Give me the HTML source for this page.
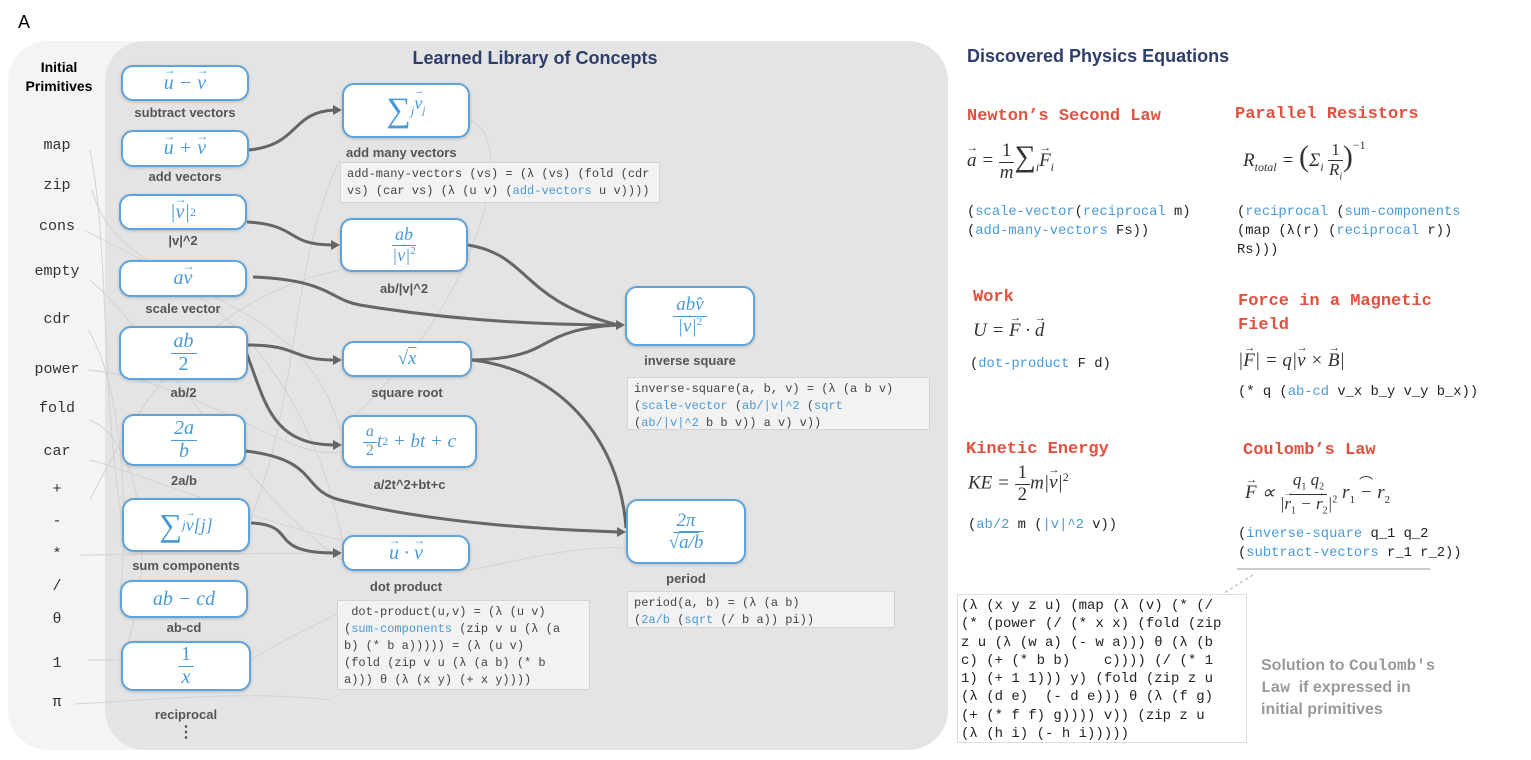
<!DOCTYPE html>
<html><head><meta charset="utf-8">
<style>
body{margin:0;width:1531px;height:760px;background:#fff;position:relative;overflow:hidden;font-family:"Liberation Sans",sans-serif}
.a{position:absolute}
.nd{position:absolute;background:#fff;border:2px solid #5ea3dc;border-radius:12px;box-shadow:0 1px 3px rgba(0,0,0,.18);box-sizing:border-box;display:flex;align-items:center;justify-content:center;color:#4a9ad6;font-family:"Liberation Serif",serif;font-style:italic;font-size:20px;white-space:nowrap}
.lb{position:absolute;font-weight:bold;font-size:13px;color:#555;text-align:center;white-space:nowrap}
.pr{position:absolute;font-family:"Liberation Mono",monospace;font-size:15px;color:#333;width:60px;text-align:center;left:27px}
.cb{position:absolute;background:#f2f2f2;border:1px solid #d4d4d4;font-family:"Liberation Mono",monospace;font-size:12px;line-height:17px;color:#444;padding:3px 6px;box-sizing:border-box;white-space:pre}
.b{color:#4a9ad6}
.fr{display:inline-flex;flex-direction:column;align-items:center;vertical-align:middle;line-height:1.05}
.fr>span:first-child{border-bottom:1.5px solid currentColor;padding:0 3px 1px}
.ti{position:absolute;font-family:"Liberation Mono",monospace;font-weight:bold;font-size:17px;color:#e0513f;white-space:nowrap}
.eq{position:absolute;font-family:"Liberation Serif",serif;font-style:italic;font-size:19px;color:#333;white-space:nowrap}
.co{position:absolute;font-family:"Liberation Mono",monospace;font-size:13.8px;line-height:19px;color:#222;white-space:pre}
.v{position:relative;display:inline-block}
.v::before{content:"→";position:absolute;left:50%;top:-0.62em;transform:translateX(-45%);font-size:0.6em;font-style:normal;line-height:1}
</style></head><body>
<svg class="a" style="left:0;top:0" width="1531" height="760">
<rect x="8" y="41" width="940" height="709" rx="40" fill="#f4f4f4"/>
<rect x="105" y="41" width="843" height="709" rx="40" fill="#e4e4e4"/>
<g fill="none" stroke="#d2d2d2" stroke-width="1">
<path d="M90 150 C110 250,100 400,125 540"/><path d="M92 190 C120 300,300 280,340 430"/>
<path d="M85 230 C130 260,300 300,345 555"/><path d="M90 280 C150 330,250 500,342 560"/>
<path d="M88 330 C120 380,130 500,120 600"/><path d="M88 370 C200 380,300 470,345 450"/>
<path d="M90 420 C140 440,160 560,122 660"/><path d="M90 460 C130 470,250 520,342 540"/>
<path d="M80 555 L340 553"/><path d="M90 500 C140 400,200 300,340 270"/>
<path d="M88 660 L120 660"/><path d="M75 704 C150 700,250 690,330 700"/>
<path d="M470 570 C520 560,580 545,626 548"/><path d="M250 660 C300 630,330 620,342 610"/>
<path d="M470 120 C520 140,480 300,350 420"/><path d="M250 520 C300 400,290 260,340 160"/>
</g>
<g fill="none" stroke="#666" stroke-width="3">
<path d="M249 150 C300 145,290 112,335 110"/>
<path d="M247 222 C300 225,285 245,333 245"/>
<path d="M253 277 C330 280,330 300,360 305 C450 320,540 325,618 325"/>
<path d="M468 245 C530 255,520 300,618 325"/>
<path d="M472 360 C560 358,530 330,618 325"/>
<path d="M472 360 C560 370,620 440,626 528"/>
<path d="M248 345 C300 345,290 360,335 360"/>
<path d="M246 352 C265 400,270 445,335 445"/>
<path d="M246 451 C320 460,300 490,340 500 C440 525,560 530,619 532"/>
<path d="M251 523 C300 525,265 553,335 553"/>
</g>
<g fill="#666">
<path d="M342 110 l-9 -5 v10z"/><path d="M340 245 l-9 -5 v10z"/><path d="M625 325 l-9 -5 v10z"/>
<path d="M342 360 l-9 -5 v10z"/><path d="M342 445 l-9 -5 v10z"/><path d="M626 532 l-9 -5 v10z"/>
<path d="M342 553 l-9 -5 v10z"/>
</g>
<path d="M1237 569 L1430 569" stroke="#bbb" stroke-width="1.5"/>
<path d="M1253 575 L1216 598" stroke="#aaa" stroke-width="1" stroke-dasharray="3,3"/>
</svg>
<div class="a" style="left:18px;top:12px;font-size:18px">A</div>
<div class="a" style="left:14px;top:58px;width:90px;text-align:center;font-weight:bold;font-size:14px;line-height:19px">Initial<br>Primitives</div>
<div class="a" style="left:330px;top:48px;width:410px;text-align:center;font-weight:bold;font-size:18px;color:#2d3e6b">Learned Library of Concepts</div>
<div class="a" style="left:967px;top:46px;font-weight:bold;font-size:18px;color:#2d3e6b">Discovered Physics Equations</div>

<div class="pr" style="top:137px">map</div><div class="pr" style="top:177px">zip</div>
<div class="pr" style="top:218px">cons</div><div class="pr" style="top:263px">empty</div>
<div class="pr" style="top:311px">cdr</div><div class="pr" style="top:361px">power</div>
<div class="pr" style="top:400px">fold</div><div class="pr" style="top:443px">car</div>
<div class="pr" style="top:481px">+</div><div class="pr" style="top:513px">-</div>
<div class="pr" style="top:546px">*</div><div class="pr" style="top:578px">/</div>
<div class="pr" style="top:611px">θ</div><div class="pr" style="top:655px">1</div>
<div class="pr" style="top:694px">π</div>

<div class="nd" style="left:121px;top:65px;width:128px;height:36px"><span class="v">u</span>&nbsp;−&nbsp;<span class="v">v</span></div>
<div class="lb" style="left:121px;top:105px;width:128px">subtract vectors</div>
<div class="nd" style="left:121px;top:130px;width:128px;height:37px"><span class="v">u</span>&nbsp;+&nbsp;<span class="v">v</span></div>
<div class="lb" style="left:121px;top:169px;width:128px">add vectors</div>
<div class="nd" style="left:119px;top:194px;width:128px;height:36px">|<span class="v">v</span>|<sup style="font-size:12px;font-style:normal">2</sup></div>
<div class="lb" style="left:119px;top:233px;width:128px">|v|^2</div>
<div class="nd" style="left:119px;top:260px;width:128px;height:37px">a<span class="v">v</span></div>
<div class="lb" style="left:119px;top:301px;width:128px">scale vector</div>
<div class="nd" style="left:119px;top:326px;width:129px;height:54px"><span class="fr"><span>ab</span><span style="font-style:normal">2</span></span></div>
<div class="lb" style="left:119px;top:385px;width:129px">ab/2</div>
<div class="nd" style="left:122px;top:414px;width:124px;height:52px"><span class="fr"><span>2a</span><span>b</span></span></div>
<div class="lb" style="left:122px;top:473px;width:124px">2a/b</div>
<div class="nd" style="left:122px;top:498px;width:128px;height:54px"><span style="font-size:32px;font-style:normal">∑</span><sub style="font-size:13px">j</sub><span style="font-size:18px"><span class="v">v</span>[j]</span></div>
<div class="lb" style="left:122px;top:558px;width:128px">sum components</div>
<div class="nd" style="left:120px;top:580px;width:128px;height:38px">ab − cd</div>
<div class="lb" style="left:120px;top:620px;width:128px">ab-cd</div>
<div class="nd" style="left:121px;top:641px;width:130px;height:50px"><span class="fr"><span style="font-style:normal">1</span><span>x</span></span></div>
<div class="lb" style="left:121px;top:707px;width:130px">reciprocal</div>
<div class="lb" style="left:121px;top:722px;width:130px;font-size:16px">⋮</div>

<div class="nd" style="left:342px;top:83px;width:128px;height:55px"><span style="font-size:34px;font-style:normal">∑</span><sub style="font-size:13px">j</sub><span style="font-size:18px;position:relative;top:-6px"><span class="v">v</span><sub style="font-size:11px">j</sub></span></div>
<div class="lb" style="left:346px;top:145px">add many vectors</div>
<div class="cb" style="left:340px;top:162px;width:320px;height:41px">add-many-vectors (vs) = (λ (vs) (fold (cdr
vs) (car vs) (λ (u v) (<span class="b">add-vectors</span> u v))))</div>
<div class="nd" style="left:340px;top:218px;width:128px;height:54px;font-size:18px"><span class="fr"><span>ab</span><span>|<span class="v">v</span>|<sup style="font-size:11px;font-style:normal">2</sup></span></span></div>
<div class="lb" style="left:340px;top:281px;width:128px">ab/|v|^2</div>
<div class="nd" style="left:342px;top:341px;width:130px;height:36px;font-size:19px"><span style="font-style:normal">√</span><span style="text-decoration:overline">x</span></div>
<div class="lb" style="left:342px;top:385px;width:130px">square root</div>
<div class="nd" style="left:342px;top:415px;width:135px;height:53px;font-size:19px"><span class="fr" style="font-size:16px"><span>a</span><span style="font-style:normal">2</span></span>t<sup style="font-size:12px;font-style:normal">2</sup>&nbsp;+ bt + c</div>
<div class="lb" style="left:342px;top:477px;width:135px">a/2t^2+bt+c</div>
<div class="nd" style="left:342px;top:535px;width:128px;height:36px"><span class="v">u</span>&nbsp;·&nbsp;<span class="v">v</span></div>
<div class="lb" style="left:342px;top:579px;width:128px">dot product</div>
<div class="cb" style="left:337px;top:600px;width:253px;height:90px"> dot-product(u,v) = (λ (u v)
(<span class="b">sum-components</span> (zip v u (λ (a
b) (* b a))))) = (λ (u v)
(fold (zip v u (λ (a b) (* b
a))) θ (λ (x y) (+ x y))))</div>

<div class="nd" style="left:625px;top:286px;width:130px;height:60px;font-size:19px"><span class="fr"><span>abv̂</span><span>|<span class="v">v</span>|<sup style="font-size:11px;font-style:normal">2</sup></span></span></div>
<div class="lb" style="left:625px;top:353px;width:130px">inverse square</div>
<div class="cb" style="left:627px;top:377px;width:303px;height:53px">inverse-square(a, b, v) = (λ (a b v)
(<span class="b">scale-vector</span> (<span class="b">ab/|v|^2</span> (<span class="b">sqrt</span>
(<span class="b">ab/|v|^2</span> b b v)) a v) v))</div>
<div class="nd" style="left:626px;top:499px;width:120px;height:65px;font-size:19px"><span class="fr"><span>2π</span><span><span style="font-style:normal">√</span><span style="text-decoration:overline">a/b</span></span></span></div>
<div class="lb" style="left:626px;top:571px;width:120px">period</div>
<div class="cb" style="left:627px;top:591px;width:268px;height:37px">period(a, b) = (λ (a b)
(<span class="b">2a/b</span> (<span class="b">sqrt</span> (/ b a)) pi))</div>

<div class="ti" style="left:967px;top:107px">Newton’s Second Law</div>
<div class="eq" style="left:967px;top:140px"><span class="v">a</span> = <span class="fr" style="font-style:normal"><span>1</span><span><i>m</i></span></span><span style="font-style:normal;font-size:30px">∑</span><sub style="font-size:12px">i</sub><span class="v">F</span><sub style="font-size:12px">i</sub></div>
<div class="co" style="left:967px;top:203px">(<span class="b">scale-vector</span>(<span class="b">reciprocal</span> m)
(<span class="b">add-many-vectors</span> Fs))</div>
<div class="ti" style="left:1235px;top:105px">Parallel Resistors</div>
<div class="eq" style="left:1243px;top:140px">R<sub style="font-size:12px">total</sub> = <span style="font-style:normal;font-size:30px">(</span>Σ<sub style="font-size:12px">i</sub> <span class="fr" style="font-size:17px"><span style="font-style:normal">1</span><span>R<sub style="font-size:10px">i</sub></span></span><span style="font-style:normal;font-size:30px">)</span><sup style="font-size:12px;font-style:normal;position:relative;top:-10px">−1</sup></div>
<div class="co" style="left:1237px;top:203px">(<span class="b">reciprocal</span> (<span class="b">sum-components</span>
(map (λ(r) (<span class="b">reciprocal</span> r))
Rs)))</div>
<div class="ti" style="left:973px;top:288px">Work</div>
<div class="eq" style="left:973px;top:320px">U = <span class="v">F</span> · <span class="v">d</span></div>
<div class="co" style="left:970px;top:355px">(<span class="b">dot-product</span> F d)</div>
<div class="ti" style="left:1238px;top:290px;line-height:24px">Force in a Magnetic<br>Field</div>
<div class="eq" style="left:1238px;top:350px">|<span class="v">F</span>| = q|<span class="v">v</span> × <span class="v">B</span>|</div>
<div class="co" style="left:1238px;top:383px">(* q (<span class="b">ab-cd</span> v_x b_y v_y b_x))</div>
<div class="ti" style="left:966px;top:440px">Kinetic Energy</div>
<div class="eq" style="left:968px;top:463px">KE = <span class="fr" style="font-style:normal"><span>1</span><span>2</span></span>m|<span class="v">v</span>|<sup style="font-size:12px;font-style:normal">2</sup></div>
<div class="co" style="left:968px;top:516px">(<span class="b">ab/2</span> m (<span class="b">|v|^2</span> v))</div>
<div class="ti" style="left:1243px;top:441px">Coulomb’s Law</div>
<div class="eq" style="left:1245px;top:471px"><span class="v">F</span> ∝ <span class="fr" style="font-size:17px"><span>q<sub style="font-size:10px;font-style:normal">1</sub> q<sub style="font-size:10px;font-style:normal">2</sub></span><span>|<span class="v">r</span><sub style="font-size:10px;font-style:normal">1</sub> − <span class="v">r</span><sub style="font-size:10px;font-style:normal">2</sub>|<sup style="font-size:10px;font-style:normal">2</sup></span></span> <span style="position:relative">r<sub style="font-size:11px;font-style:normal">1</sub> − r<sub style="font-size:11px;font-style:normal">2</sub><span style="position:absolute;left:0;right:0;top:-4px;font-style:normal;font-size:14px;text-align:center;line-height:1">⌒</span></span></div>
<div class="co" style="left:1238px;top:525px">(<span class="b">inverse-square</span> q_1 q_2
(<span class="b">subtract-vectors</span> r_1 r_2))</div>
<div class="co" style="left:957px;top:594px;width:290px;height:149px;border:1px solid #ddd;background:#fff;padding:2px 3px;box-sizing:border-box;line-height:18.3px;font-size:14px">(λ (x y z u) (map (λ (v) (* (/
(* (power (/ (* x x) (fold (zip
z u (λ (w a) (- w a))) θ (λ (b
c) (+ (* b b)    c)))) (/ (* 1
1) (+ 1 1))) y) (fold (zip z u
(λ (d e)  (- d e))) θ (λ (f g)
(+ (* f f) g)))) v)) (zip z u
(λ (h i) (- h i)))))</div>
<div class="a" style="left:1261px;top:655px;font-weight:bold;font-size:16px;line-height:22px;color:#999">Solution to <span style="font-family:'Liberation Mono',monospace">Coulomb's</span><br><span style="font-family:'Liberation Mono',monospace">Law</span>&nbsp; if expressed in<br>initial primitives</div>
</body></html>
